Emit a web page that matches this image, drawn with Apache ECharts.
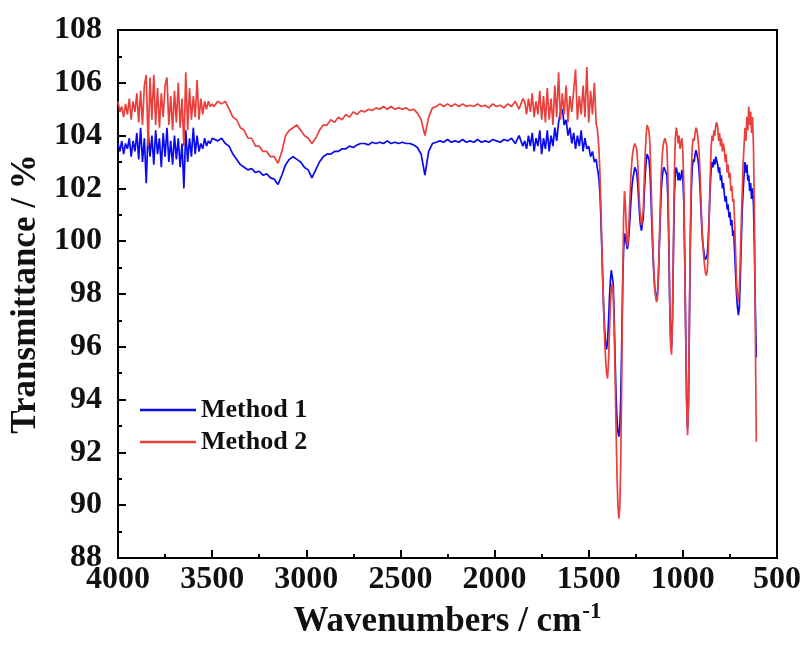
<!DOCTYPE html>
<html>
<head>
<meta charset="utf-8">
<script src="https://cdn.jsdelivr.net/npm/echarts@6/dist/echarts.min.js"></script>
<style>
html,body{margin:0;padding:0;background:#fff;}
#chart{width:806px;height:647px;}
</style>
</head>
<body>
<div id="chart"></div>
<script>
// ---- Data ----
const seriesNames = ['Method 1', 'Method 2'];
const xTicks = [4000, 3500, 3000, 2500, 2000, 1500, 1000, 500];
const yTicks = [88, 90, 92, 94, 96, 98, 100, 102, 104, 106, 108];

// Segment A: 4000 - 3500 cm-1
const wnA = [
4000,3990,3980,3970,3960,3950,3940,3930,3920,3910,
3900,3890,3880,3870,3860,3850,3840,3830,3820,3810,
3800,3790,3780,3770,3760,3750,3740,3730,3720,3710,
3700,3690,3680,3670,3660,3650,3640,3630,3620,3610,
3600,3590,3580,3570,3560,3550,3540,3530,3520,3510,
3500];
const method1A = [
103.7,103.4,103.8,103.3,103.7,103.5,103.9,103.2,103.8,103.4,
104.1,103.1,104.3,103.0,103.9,102.2,104.2,103.2,104.0,102.9,
104.2,103.3,103.9,102.8,104.1,103.2,104.3,103.0,103.8,102.9,
104.0,103.1,103.9,102.8,103.7,102.0,104.2,103.0,103.9,103.2,
104.3,103.3,104.0,103.4,103.7,103.5,103.9,103.6,103.8,103.7,
103.9];
const method2A = [
105.3,104.9,105.1,104.7,105.2,104.8,105.4,104.6,105.3,104.9,
105.6,104.5,105.7,104.4,105.9,106.3,103.6,106.2,104.6,106.3,
104.4,105.8,104.3,105.6,104.7,105.9,106.2,104.4,105.5,104.2,
105.7,104.5,106.0,104.3,105.4,103.6,106.4,104.2,105.8,104.6,
105.5,104.7,106.1,104.6,105.4,104.8,105.3,105.0,105.3,105.1,
105.2];

// Segment B: 3490 - 1850 cm-1
const wnB = [
3490,3470,3450,3430,3410,3390,3370,3350,3330,3310,
3290,3270,3250,3230,3210,3190,3170,3150,3130,3110,
3090,3070,3050,3030,3010,2990,2970,2950,2930,2910,
2890,2870,2850,2830,2810,2790,2770,2750,2730,2710,
2690,2670,2650,2630,2610,2590,2570,2550,2530,2510,
2490,2470,2450,2430,2410,2390,2370,2350,2330,2310,
2290,2270,2250,2230,2210,2190,2170,2150,2130,2110,
2090,2070,2050,2030,2010,1990,1970,1950,1930,1910,
1890,1870,1850];
const method1B = [
103.9,103.8,103.9,103.7,103.6,103.3,103.1,102.9,102.8,102.7,
102.75,102.6,102.65,102.5,102.55,102.4,102.35,102.15,102.5,102.9,
103.1,103.2,103.1,103.0,102.8,102.7,102.4,102.7,103.0,103.2,
103.3,103.3,103.4,103.4,103.5,103.5,103.6,103.55,103.65,103.7,
103.7,103.65,103.75,103.7,103.75,103.7,103.8,103.7,103.75,103.7,
103.75,103.7,103.7,103.65,103.55,103.3,102.5,103.4,103.7,103.75,
103.8,103.75,103.85,103.75,103.8,103.75,103.85,103.75,103.8,103.75,
103.85,103.75,103.8,103.75,103.85,103.8,103.75,103.85,103.8,103.9,
103.7,104.0,103.6];
const method2B = [
105.1,105.3,105.2,105.3,105.0,104.7,104.6,104.3,104.2,103.9,
103.9,103.6,103.6,103.4,103.4,103.2,103.2,102.95,103.4,104.0,
104.2,104.3,104.4,104.2,104.0,103.9,103.7,103.9,104.2,104.4,
104.4,104.6,104.5,104.7,104.6,104.8,104.7,104.9,104.8,104.95,
104.9,105.0,104.95,105.05,105.0,105.1,105.0,105.1,105.0,105.05,
105.0,105.05,104.95,105.0,104.85,104.6,104.0,104.7,105.05,105.1,
105.2,105.1,105.2,105.1,105.2,105.1,105.2,105.1,105.15,105.1,
105.2,105.1,105.15,105.05,105.2,105.1,105.15,105.05,105.2,105.1,
105.3,105.0,105.4];

// Segment C: 1840 - 1460 cm-1
const wnC = [
1840,1830,1820,1810,1800,1790,1780,1770,1760,1750,
1740,1730,1720,1710,1700,1690,1680,1670,1660,1650,
1640,1630,1620,1610,1600,1590,1580,1570,1560,1550,
1540,1530,1520,1510,1500,1490,1480,1470,1460];
const method1C = [
103.8,103.5,104.0,103.6,104.1,103.4,103.9,103.6,104.2,103.3,
103.9,103.5,104.2,103.4,104.0,103.6,104.3,103.8,104.5,104.9,
105.0,104.4,104.6,104.0,104.3,103.7,104.1,103.5,104.0,103.6,
104.2,103.4,103.9,103.5,103.6,103.2,103.4,103.0,103.1];
const method2C = [
105.3,104.8,105.4,104.9,105.6,104.7,105.3,104.8,105.7,104.6,
105.5,104.5,105.8,104.6,105.4,104.4,105.9,104.7,106.4,104.6,
105.6,104.8,105.9,104.5,105.5,104.9,105.7,106.5,104.6,105.5,
104.8,105.9,104.7,106.6,104.5,105.7,104.8,106.0,104.4];

// Segment D: 1455 - 610 cm-1 (fingerprint region)
const wnD = [
1455,1450,1445,1440,1435,1430,1425,1420,1415,1410,
1405,1400,1395,1390,1385,1380,1375,1370,1365,1360,
1355,1350,1345,1340,1335,1330,1325,1320,1315,1310,
1305,1300,1295,1290,1285,1280,1275,1270,1265,1260,
1255,1250,1245,1240,1235,1230,1225,1220,1215,1210,
1205,1200,1195,1190,1185,1180,1175,1170,1165,1160,
1155,1150,1145,1140,1135,1130,1125,1120,1115,1110,
1105,1100,1095,1090,1085,1080,1075,1070,1065,1060,
1055,1050,1045,1040,1035,1030,1025,1020,1015,1010,
1005,1000,995,990,985,980,975,970,965,960,
955,950,945,940,935,930,925,920,915,910,
905,900,895,890,885,880,875,870,865,860,
855,850,845,840,835,830,825,820,815,810,
805,800,795,790,785,780,775,770,765,760,
755,750,745,740,735,730,725,720,715,710,
705,700,695,690,685,680,675,670,665,660,
655,650,645,640,635,630,625,620,615,610];
const method1D = [
102.8,102.6,102.3,101.8,100.8,99.6,98.4,97.4,96.6,96.1,
95.9,96.2,96.9,97.8,98.5,98.9,98.9,98.4,97.2,95.6,
94.2,93.3,92.8,92.6,92.9,94.0,96.0,98.2,99.6,100.3,
100.1,99.9,99.7,99.9,100.4,101.0,101.6,102.1,102.4,102.6,
102.8,102.8,102.6,102.2,101.6,101.0,100.6,100.4,100.4,100.9,
101.8,102.5,103.0,103.3,103.3,103.1,102.7,101.8,100.7,99.7,
98.9,98.3,98.0,97.9,98.0,98.7,99.8,100.9,101.9,102.4,
102.7,102.8,102.8,102.8,102.5,101.7,100.0,97.8,96.3,96.0,
97.1,99.6,101.7,102.6,102.8,102.6,102.3,102.6,102.3,102.4,
102.7,102.4,101.5,99.3,96.6,94.0,92.9,93.9,97.0,100.0,
101.9,102.8,103.1,103.0,103.3,103.45,103.4,103.1,102.8,102.2,
101.4,100.6,100.0,99.7,99.4,99.3,99.3,99.5,100.1,101.0,
102.0,102.7,103.0,102.8,103.1,102.9,103.2,103.2,102.9,102.6,
102.8,102.3,102.5,102.0,102.2,101.8,101.5,101.7,101.2,101.4,
100.9,101.1,100.6,100.8,100.2,100.4,99.6,98.8,98.0,97.5,
97.2,97.5,98.6,99.9,101.1,101.9,102.5,103.0,102.6,102.9,
102.3,102.5,101.9,102.2,101.6,102.0,101.4,99.8,97.5,95.6];
const method2D = [
104.3,103.9,103.4,102.5,101.2,99.8,98.4,97.2,96.2,95.5,
95.0,94.8,95.4,96.5,97.6,98.2,98.4,98.0,96.8,95.0,
93.0,91.2,90.0,89.5,89.9,91.5,94.5,98.0,100.8,101.9,
101.4,100.4,99.8,100.1,100.9,101.8,102.6,103.1,103.4,103.6,
103.7,103.7,103.5,103.0,102.2,101.4,100.9,100.6,100.55,101.2,
102.3,103.3,104.0,104.4,104.4,104.2,103.7,102.6,101.2,100.0,
99.0,98.3,97.9,97.7,97.8,98.6,99.9,101.3,102.5,103.2,
103.6,103.8,103.9,103.9,103.6,102.6,100.6,97.8,96.0,95.7,
97.0,100.0,102.6,103.9,104.3,104.1,103.7,104.0,103.5,103.5,
103.9,103.4,102.2,99.5,96.5,93.8,92.65,93.8,97.2,100.5,
102.6,103.6,103.9,103.8,104.1,104.3,104.2,103.9,103.5,102.8,
101.8,100.8,100.0,99.5,99.1,98.8,98.7,98.9,99.6,100.9,
102.4,103.5,104.0,103.8,104.2,104.0,104.4,104.5,104.3,103.8,
104.1,103.6,103.9,103.4,103.7,103.5,103.0,103.3,102.6,102.9,
102.4,102.6,101.9,102.1,101.5,101.6,100.7,99.6,98.5,97.9,
97.7,98.2,99.3,100.6,101.8,102.9,103.6,104.3,103.8,104.7,
104.2,105.1,104.4,104.9,104.1,104.7,103.6,101.0,96.5,92.4];

// ---- Build series data ----
const wavenumbers = wnA.concat(wnB, wnC, wnD);
const method1 = method1A.concat(method1B, method1C, method1D);
const method2 = method2A.concat(method2B, method2C, method2D);
if (wavenumbers.length !== method1.length || wavenumbers.length !== method2.length) {
  console.error('length mismatch', wavenumbers.length, method1.length, method2.length);
}
const pairs = (ys) => wavenumbers.map((w, i) => [w, ys[i]]);

const FONT = '"Liberation Serif", "Times New Roman", serif';
const BLUE = '#0a0af0';
const RED = '#ea3f3b';
const chart = echarts.init(document.getElementById('chart'), null, {renderer: 'canvas'});

chart.setOption({
  backgroundColor: '#fff',
  animation: false,
  grid: {left: 118, right: 29, top: 30, bottom: 89, show: true, borderColor: '#000', borderWidth: 2, backgroundColor: 'transparent'},
  legend: {
    data: seriesNames.map(n => ({name: n, icon: 'rect'})),
    orient: 'vertical',
    left: 135, top: 392,
    itemWidth: 56, itemHeight: 2.5, itemGap: 6,
    textStyle: {fontFamily: FONT, fontWeight: 'bold', fontSize: 26, color: '#111', padding: [0, 0, 0, 0]}
  },
  xAxis: {
    type: 'value', inverse: true,
    min: xTicks[xTicks.length - 1], max: xTicks[0], interval: 500,
    name: '{a|Wavenumbers / cm}{b|-1}',
    nameLocation: 'middle', nameGap: 27,
    nameTextStyle: {
      rich: {
        a: {fontFamily: FONT, fontWeight: 'bold', fontSize: 35, color: '#111', verticalAlign: 'bottom'},
        b: {fontFamily: FONT, fontWeight: 'bold', fontSize: 23, color: '#111', verticalAlign: 'bottom', padding: [0, 0, 16, 1]}
      }
    },
    axisLine: {onZero: false, lineStyle: {color: '#000', width: 2}},
    axisTick: {inside: true, length: 8, lineStyle: {color: '#000', width: 2}},
    minorTick: {show: true, splitNumber: 2, length: 4, lineStyle: {color: '#000', width: 2}},
    splitLine: {show: false},
    axisLabel: {fontFamily: FONT, fontWeight: 'bold', fontSize: 32, color: '#111', margin: 6,
                formatter: (v) => String(v)}
  },
  yAxis: {
    type: 'value',
    min: yTicks[0], max: yTicks[yTicks.length - 1], interval: 2,
    name: 'Transmittance / %',
    nameLocation: 'middle', nameGap: 67, nameRotate: 90,
    nameTextStyle: {fontFamily: FONT, fontWeight: 'bold', fontSize: 35, color: '#111'},
    axisLine: {onZero: false, lineStyle: {color: '#000', width: 2}},
    axisTick: {inside: true, length: 8, lineStyle: {color: '#000', width: 2}},
    minorTick: {show: true, splitNumber: 2, length: 4, lineStyle: {color: '#000', width: 2}},
    splitLine: {show: false},
    axisLabel: {fontFamily: FONT, fontWeight: 'bold', fontSize: 32, color: '#111', margin: 16,
                formatter: (v) => String(v)}
  },
  series: [
    {name: seriesNames[0], type: 'line', data: pairs(method1), symbol: 'none', smooth: false,
     lineStyle: {color: BLUE, width: 1.7}, itemStyle: {color: BLUE}, z: 2},
    {name: seriesNames[1], type: 'line', data: pairs(method2), symbol: 'none', smooth: false,
     lineStyle: {color: RED, width: 1.7}, itemStyle: {color: RED}, z: 3}
  ]
});
</script>
</body>
</html>
